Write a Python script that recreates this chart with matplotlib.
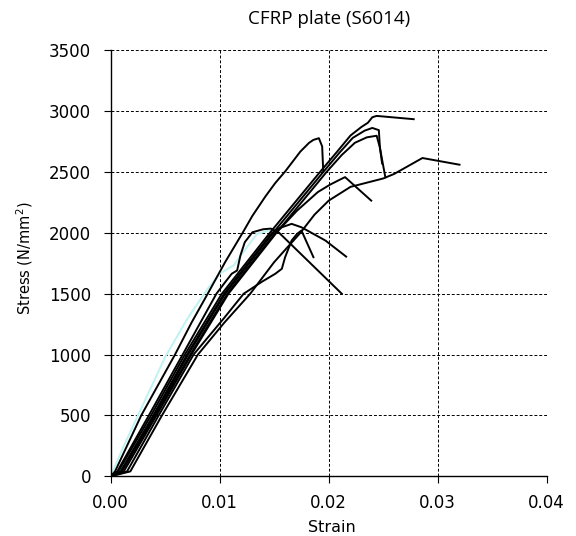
import matplotlib
matplotlib.use("Agg")
import matplotlib.pyplot as plt

# ---- data (strain, stress in N/mm^2) ----
strain_j = [0, 0.0012, 0.0025, 0.0050, 0.0070, 0.0088, 0.0100, 0.0113, 0.0124, 0.0134, 0.0147, 0.0152]
stress_j = [0, 250, 500, 980, 1290, 1530, 1665, 1735, 1870, 1990, 2025, 2010]

strain_a = [0, 0.0004, 0.0028, 0.0059, 0.0074, 0.0089, 0.0105, 0.0121, 0.0130, 0.0142, 0.0151, 0.0160, 0.0174, 0.0182, 0.0186, 0.0191, 0.0194, 0.0195]
stress_a = [0, 40, 500, 1000, 1260, 1500, 1760, 2000, 2140, 2300, 2410, 2504, 2668, 2740, 2764, 2778, 2710, 2504]

strain_b = [0, 0.0007, 0.0037, 0.0068, 0.0102, 0.0124, 0.0146, 0.0169, 0.0192, 0.0208, 0.0220, 0.0230, 0.0236, 0.0240, 0.0244, 0.0278]
stress_b = [0, 40, 500, 1000, 1500, 1750, 2000, 2250, 2500, 2670, 2800, 2870, 2905, 2950, 2961, 2934]

strain_c = [0, 0.0010, 0.0040, 0.0071, 0.0105, 0.0127, 0.0149, 0.0172, 0.0195, 0.0210, 0.0222, 0.0233, 0.0240, 0.0246, 0.0247, 0.0249]
stress_c = [0, 40, 500, 1000, 1500, 1750, 2000, 2250, 2500, 2660, 2780, 2840, 2862, 2844, 2700, 2570]

strain_d = [0, 0.0012, 0.0042, 0.0074, 0.0108, 0.0130, 0.0152, 0.0175, 0.0198, 0.0212, 0.0224, 0.0235, 0.0244, 0.0247, 0.0249, 0.0252]
stress_d = [0, 40, 500, 1000, 1500, 1750, 2000, 2250, 2500, 2640, 2740, 2785, 2798, 2700, 2600, 2456]

strain_e = [0, 0.0018, 0.0047, 0.0080, 0.0104, 0.0128, 0.0150, 0.0174, 0.0187, 0.0200, 0.0220, 0.0250, 0.0260, 0.0286, 0.0320]
stress_e = [0, 40, 500, 1000, 1260, 1500, 1760, 2000, 2150, 2265, 2378, 2447, 2484, 2615, 2560]

strain_f = [0, 0.0009, 0.0039, 0.0070, 0.0104, 0.0126, 0.0148, 0.0157, 0.0171, 0.0190, 0.0201, 0.0210, 0.0215, 0.0239]
stress_f = [0, 40, 500, 1000, 1500, 1750, 2000, 2050, 2183, 2335, 2395, 2436, 2458, 2265]

strain_g = [0, 0.0010, 0.0041, 0.0073, 0.0107, 0.0129, 0.0151, 0.0157, 0.0166, 0.0175, 0.0197, 0.0216]
stress_g = [0, 40, 500, 1000, 1500, 1750, 2000, 2046, 2074, 2046, 1937, 1805]

strain_h = [0, 0.0006, 0.0035, 0.0066, 0.0097, 0.0105, 0.0111, 0.0116, 0.0119, 0.0123, 0.0130, 0.0140, 0.0147, 0.0154, 0.0212]
stress_h = [0, 40, 500, 1000, 1500, 1595, 1664, 1691, 1814, 1923, 2005, 2030, 2035, 2005, 1500]

strain_i = [0, 0.0015, 0.0044, 0.0076, 0.0104, 0.0122, 0.0139, 0.0151, 0.0157, 0.0160, 0.0166, 0.0171, 0.0175, 0.0186]
stress_i = [0, 40, 500, 1000, 1300, 1500, 1600, 1664, 1705, 1800, 1937, 1992, 2019, 1800]

black_series = [(strain_a, stress_a), (strain_b, stress_b), (strain_c, stress_c),
                (strain_d, stress_d), (strain_e, stress_e), (strain_f, stress_f),
                (strain_g, stress_g), (strain_h, stress_h), (strain_i, stress_i)]

x_ticks = [0.00, 0.01, 0.02, 0.03, 0.04]
x_labels = ["0.00", "0.01", "0.02", "0.03", "0.04"]
y_ticks = [0, 500, 1000, 1500, 2000, 2500, 3000, 3500]

# ---- figure ----
fig = plt.figure(figsize=(5.76, 5.36), dpi=100)
ax = fig.add_axes([110.7 / 576, 1 - 476.3 / 536, (546.7 - 110.7) / 576, (476.3 - 50.3) / 536])

ax.plot(strain_j, stress_j, color="#bff3f3", lw=1.4, zorder=2)
for sx, sy in black_series:
    ax.plot(sx, sy, color="black", lw=1.4, zorder=3, solid_joinstyle="round")

ax.set_xlim(0, 0.04)
ax.set_ylim(0, 3500)
ax.set_xticks(x_ticks)
ax.set_xticklabels(x_labels)
ax.set_yticks(y_ticks)

ax.grid(True, color="black", linestyle=(0, (3, 2)), lw=0.7, zorder=1)
ax.set_axisbelow(True)
for s in ["top", "right"]:
    ax.spines[s].set_visible(False)
for s in ["left", "bottom"]:
    ax.spines[s].set_linewidth(1.0)
    ax.spines[s].set_color("black")

ax.tick_params(axis="both", direction="out", length=5, width=0.8, labelsize=12, colors="black")
ax.tick_params(axis="x", pad=8)
ax.tick_params(axis="y", pad=9)
for lab in ax.get_xticklabels() + ax.get_yticklabels():
    lab.set_fontfamily("DejaVu Sans")

fig.text(328.7 / 576, 1 - 19.5 / 536, "CFRP plate (S6014)", ha="center", va="center",
         fontsize=13.5, family=["Open Sans", "DejaVu Sans"])
fig.text(331.7 / 576, 1 - 527 / 536, "Strain", ha="center", va="center",
         fontsize=11.5, family="DejaVu Sans")
fig.text(25 / 576, 1 - 258.5 / 536, "Stress (N/mm$^2$)", ha="center", va="center",
         rotation=90, fontsize=10.5, family="DejaVu Sans")

fig.savefig("out.png", dpi=100)
